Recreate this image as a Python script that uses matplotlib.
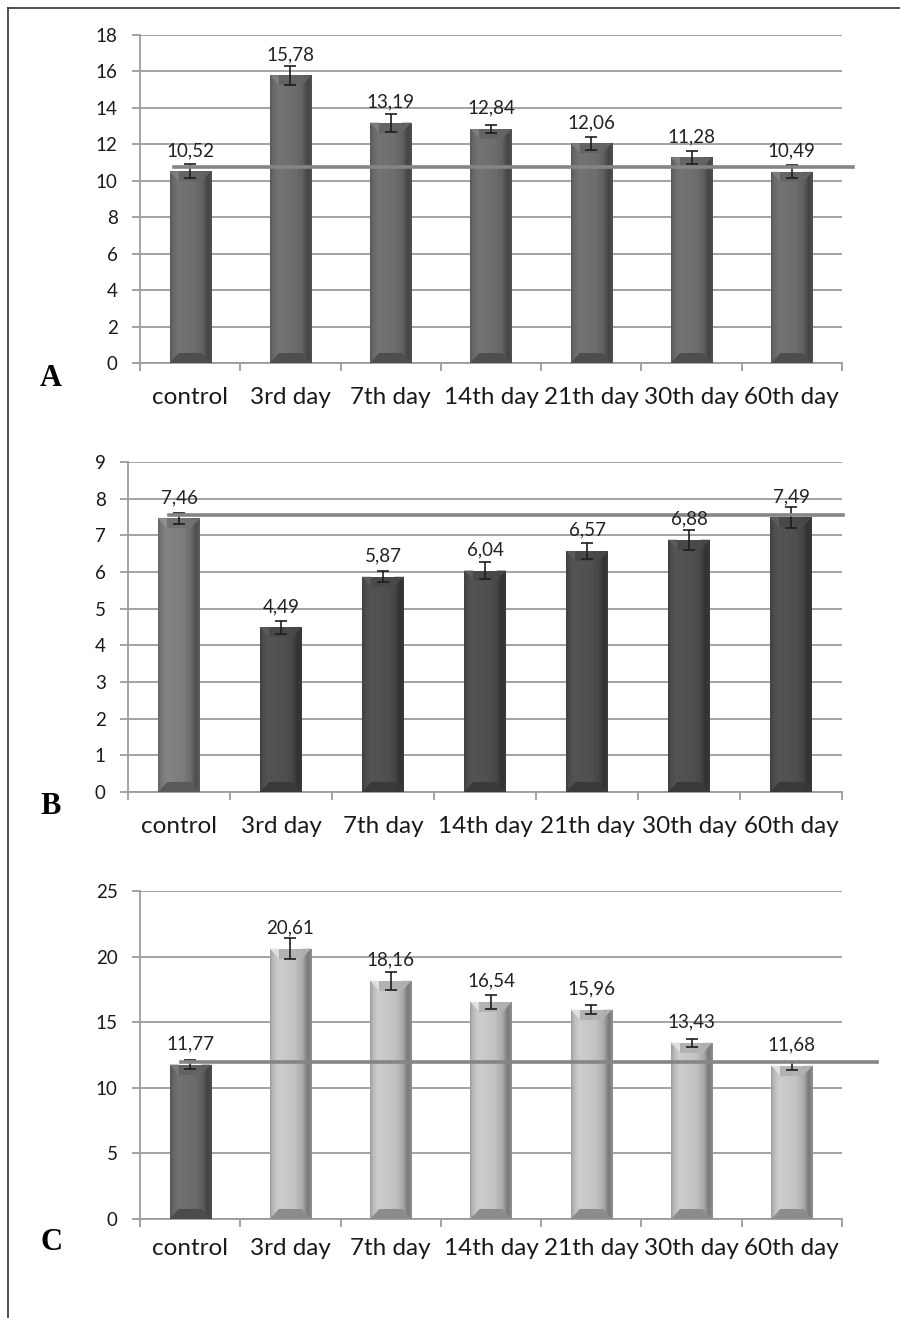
import numpy as np
import matplotlib
matplotlib.use("Agg")
import matplotlib.pyplot as plt
from matplotlib.colors import LinearSegmentedColormap, to_rgb
from matplotlib.patches import Polygon
from matplotlib.lines import Line2D

plt.rcParams['font.family'] = ['Lato', 'DejaVu Sans']

categories = ["control", "3rd day", "7th day", "14th day", "21th day", "30th day", "60th day"]

a_values = [10.52, 15.78, 13.19, 12.84, 12.06, 11.28, 10.49]
a_errors = [0.38, 0.50, 0.50, 0.22, 0.35, 0.36, 0.36]
a_ref = 10.75
a_ticks = [0, 2, 4, 6, 8, 10, 12, 14, 16, 18]

b_values = [7.46, 4.49, 5.87, 6.04, 6.57, 6.88, 7.49]
b_errors = [0.16, 0.18, 0.15, 0.22, 0.22, 0.27, 0.29]
b_ref = 7.55
b_ticks = [0, 1, 2, 3, 4, 5, 6, 7, 8, 9]

c_values = [11.77, 20.61, 18.16, 16.54, 15.96, 13.43, 11.68]
c_errors = [0.33, 0.83, 0.67, 0.50, 0.35, 0.30, 0.30]
c_ref = 12.0
c_ticks = [0, 5, 10, 15, 20, 25]

W, H = 900, 1318
fig = plt.figure(figsize=(W / 100, H / 100), dpi=100)

GRID = "#9c9c9c"


def shade(rgb, f):
    return tuple(np.clip(np.array(rgb) * f, 0, 1))


def bevel_bar(ax, x, h, width, color, px_unit):
    x0, x1 = x - width / 2, x + width / 2
    base = to_rgb(color)
    bar = ax.bar(x, h, width, color=color, edgecolor="none", zorder=3)[0]
    prof = [(0.0, 0.80), (0.07, 0.95), (0.2, 1.06), (0.6, 1.0),
            (0.78, 0.88), (0.9, 0.62), (1.0, 0.75)]
    cmap = LinearSegmentedColormap.from_list(
        "bev", [(p, shade(base, f)) for p, f in prof])
    grad = np.linspace(0, 1, 256).reshape(1, -1)
    im = ax.imshow(grad, extent=[x0, x1, 0, h], aspect="auto", cmap=cmap,
                   zorder=3.1, interpolation="bilinear")
    im.set_clip_path(bar)
    d = 0.09
    bh = 10 / px_unit
    # top bevel
    ax.add_patch(Polygon([(x0, h), (x0 + d, h - bh), (x0 + d, h)],
                         closed=True, color=shade(base, 1.15), lw=0, zorder=3.2))
    ax.add_patch(Polygon([(x1, h), (x1 - d, h - bh), (x1 - d, h)],
                         closed=True, color=shade(base, 0.9), lw=0, zorder=3.2))
    ax.add_patch(Polygon([(x0 + d, h), (x1 - d, h), (x1 - d, h - bh), (x0 + d, h - bh)],
                         closed=True, color=shade(base, 0.92), lw=0, zorder=3.2))
    # bottom bevel
    ax.add_patch(Polygon([(x0, 0), (x1, 0), (x1 - d, bh), (x0 + d, bh)],
                         closed=True, color=shade(base, 0.72), lw=0, zorder=3.2))


def panel(rect_px, values, errors, colors, ticks, ref, ref_span, letter, letter_y, label_pad):
    left, top, right, bottom = rect_px
    ax = fig.add_axes([left / W, 1 - bottom / H, (right - left) / W, (bottom - top) / H])
    ymax = ticks[-1]
    px_unit = (bottom - top) / ymax
    x = np.arange(len(categories))
    for xi, v, c in zip(x, values, colors):
        bevel_bar(ax, xi, v, 0.41, c, px_unit)
    ax.errorbar(x, values, yerr=errors, fmt="none", ecolor="#1e1e1e",
                elinewidth=1.2, capsize=4, capthick=1.2, zorder=4)
    for xi, v in zip(x, values):
        ax.annotate(f"{v:.2f}".replace(".", ","), (xi, v), xytext=(0, 11),
                    textcoords="offset points", ha="center", va="baseline",
                    fontsize=13.5, color="#222222", zorder=6)
    ax.plot(ref_span, [ref, ref], color="#858585", lw=2.6, clip_on=False, zorder=5)

    ax.set_xlim(-0.5, len(categories) - 0.5)
    ax.set_ylim(0, ymax)
    ax.set_yticks(ticks)
    ax.yaxis.grid(True, color=GRID, lw=1.3)
    ax.set_axisbelow(True)
    ax.set_xticks(np.arange(len(categories) + 1) - 0.5)
    ax.set_xticklabels([])
    ax.set_xticks(x, minor=True)
    ax.set_xticklabels(categories, minor=True, fontsize=17.5, color="#1a1a1a")
    ax.tick_params(axis="x", which="major", length=6, width=1.3, color=GRID)
    ax.tick_params(axis="x", which="minor", length=0, pad=label_pad)
    ax.tick_params(axis="y", length=6, width=1.3, color=GRID, pad=10,
                   labelsize=13.5, labelcolor="#1a1a1a")
    for s in ("top", "right"):
        ax.spines[s].set_visible(False)
    for s in ("left", "bottom"):
        ax.spines[s].set_color(GRID)
        ax.spines[s].set_linewidth(1.3)
    fig.text(51 / W, 1 - letter_y / H, letter, family=["Liberation Serif", "DejaVu Serif"],
             weight="bold", fontsize=22, ha="center", va="center")
    return ax


panel((140, 35, 842, 363), a_values, a_errors, ["#6d6d6e"] * 7, a_ticks,
      a_ref, [-0.16, 6.61], "A", 379, 17)
panel((128, 462, 842, 792), b_values, b_errors, ["#7c7c7d"] + ["#4f4f50"] * 6, b_ticks,
      b_ref, [-0.1, 6.51], "B", 806, 17)
panel((140, 891, 842, 1219), c_values, c_errors, ["#6a6a6b"] + ["#c2c2c4"] * 6, c_ticks,
      c_ref, [-0.09, 6.85], "C", 1242, 14)

# page frame
fig.add_artist(Line2D([8 / W, 1], [1 - 8 / H, 1 - 8 / H], transform=fig.transFigure,
                      color="#333333", lw=1.2))
fig.add_artist(Line2D([8 / W, 8 / W], [0, 1 - 8 / H], transform=fig.transFigure,
                      color="#333333", lw=1.2))

fig.savefig("out.png", dpi=100)
